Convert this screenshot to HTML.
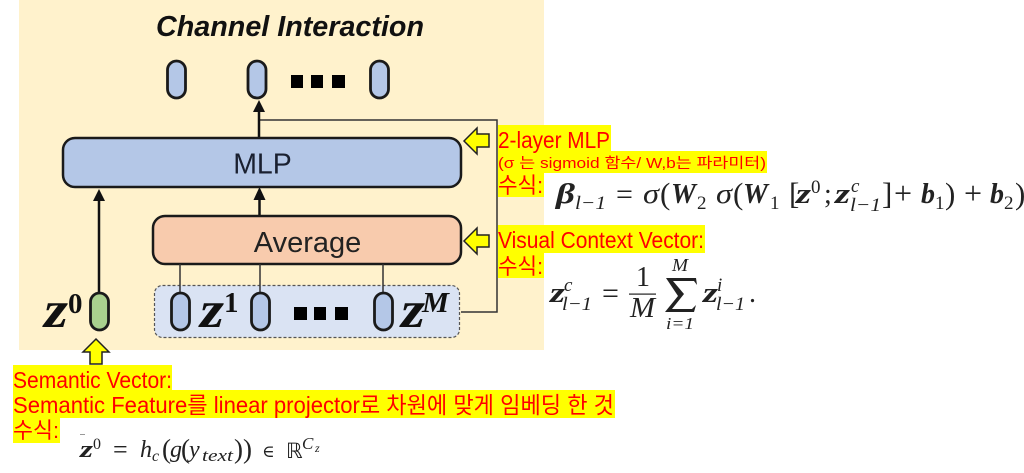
<!DOCTYPE html>
<html><head><meta charset="utf-8"><style>
html,body{margin:0;padding:0;background:#fff;width:1024px;height:473px;overflow:hidden}
svg{display:block;filter:blur(0.35px)}
.k{font-family:"Liberation Sans","Noto Sans CJK KR",sans-serif;fill:#f00}
.m{font-family:"Liberation Serif",serif;fill:#222}
.i{font-style:italic}.b{font-weight:bold}
</style></head><body>
<svg width="1024" height="473" viewBox="0 0 1024 473" xmlns="http://www.w3.org/2000/svg">
<rect x="19" y="0" width="525" height="350" fill="#fff2cc"/>
<text x="156" y="36" font-family="Liberation Sans" font-weight="bold" font-style="italic" font-size="29" fill="#111" textLength="268" lengthAdjust="spacingAndGlyphs">Channel Interaction</text>
<g fill="#b4c7e7" stroke="#1a1a1a" stroke-width="2.800">
<rect x="167.500" y="61" width="18" height="37" rx="9"/><rect x="248" y="61" width="18" height="37" rx="9"/><rect x="370.500" y="61" width="18" height="37" rx="9"/>
</g>
<g fill="#000"><rect x="291" y="75" width="12" height="13"/><rect x="311" y="75" width="12" height="13"/><rect x="332" y="75" width="13" height="13"/></g>
<path d="M259 120H497V312H461" fill="none" stroke="#333" stroke-width="1.500"/>
<g stroke="#111" stroke-width="2.500" fill="none"><path d="M259 138V110M259.500 216V199M99 293V200"/></g>
<g fill="#111"><path d="M259 100L265 112H253Z"/><path d="M259.500 187L265.500 200H253.500Z"/><path d="M99 189L105 201H93Z"/></g>
<rect x="63" y="138" width="398" height="49" rx="12" fill="#b4c7e7" stroke="#1a1a1a" stroke-width="2.500"/>
<text x="262.500" y="173.500" text-anchor="middle" font-family="Liberation Sans" font-size="28.500" fill="#1a2030">MLP</text>
<rect x="153" y="216" width="308" height="48" rx="12" fill="#f8cbad" stroke="#1a1a1a" stroke-width="2.500"/>
<text x="307.500" y="252" text-anchor="middle" font-family="Liberation Sans" font-size="29" fill="#222">Average</text>
<rect x="154.500" y="285.500" width="305" height="52" rx="8" fill="#dae3f3" stroke="#555" stroke-width="1.200" stroke-dasharray="3 2"/>
<path d="M180 264V293M260 264V293M383 264V293" stroke="#333" stroke-width="1.500"/>
<g fill="#000"><rect x="294" y="307" width="13" height="13"/><rect x="314" y="307" width="12" height="13"/><rect x="335" y="307" width="13" height="13"/></g>
<g fill="#b4c7e7" stroke="#1a1a1a" stroke-width="2.800">
<rect x="171.500" y="293" width="18" height="37" rx="9"/><rect x="251.500" y="293" width="18" height="37" rx="9"/><rect x="374.500" y="293" width="18" height="37" rx="9"/>
</g>
<rect x="90.500" y="293" width="18" height="37" rx="9" fill="#a9d18e" stroke="#1a1a1a" stroke-width="2.800"/>
<g font-family="Liberation Serif" font-weight="bold" fill="#111">
<text x="44" y="327" font-size="52" font-style="italic" textLength="24" lengthAdjust="spacingAndGlyphs">z</text><text x="68" y="313" font-size="29">0</text>
<text x="200" y="327" font-size="52" font-style="italic" textLength="24" lengthAdjust="spacingAndGlyphs">z</text><text x="224" y="312" font-size="29">1</text>
<text x="401" y="327" font-size="52" font-style="italic" textLength="24" lengthAdjust="spacingAndGlyphs">z</text><text x="422" y="312" font-size="29" font-style="italic" textLength="27" lengthAdjust="spacingAndGlyphs">M</text>
</g>
<g fill="#ff0" stroke="#222" stroke-width="1.500">
<path d="M464 141L477 128V134H489V147H477V154Z"/>
<path d="M464 241L477 228V235H489V247H477V254Z"/>
<path d="M96 339L109 352H102V364H90V352H83Z"/>
</g>
<g fill="#ff0">
<rect x="498" y="125" width="113" height="26"/><rect x="498" y="151" width="269" height="22"/><rect x="498" y="173" width="46" height="24"/>
<rect x="498" y="225" width="207" height="28"/><rect x="498" y="253" width="46" height="25"/>
<rect x="13" y="365" width="159" height="25"/><rect x="13" y="390" width="602" height="28"/><rect x="13" y="418" width="47" height="25"/>
</g>
<g class="k">
<text x="498" y="148" font-size="23" textLength="112" lengthAdjust="spacingAndGlyphs">2-layer MLP</text>
<text x="498" y="168" font-size="14.500" textLength="268" lengthAdjust="spacingAndGlyphs">(σ 는 sigmoid 함수/ W,b는 파라미터)</text>
<text x="498" y="193" font-size="22" textLength="45" lengthAdjust="spacingAndGlyphs">수식:</text>
<text x="498" y="248" font-size="23" textLength="206" lengthAdjust="spacingAndGlyphs">Visual Context Vector:</text>
<text x="498" y="274" font-size="22" textLength="45" lengthAdjust="spacingAndGlyphs">수식:</text>
<text x="13" y="388" font-size="23" textLength="159" lengthAdjust="spacingAndGlyphs">Semantic Vector:</text>
<text x="13" y="413" font-size="23" textLength="601" lengthAdjust="spacingAndGlyphs">Semantic Feature를 linear projector로 차원에 맞게 임베딩 한 것</text>
<text x="13" y="438" font-size="22" textLength="46" lengthAdjust="spacingAndGlyphs">수식:</text>
</g>
<!-- eq 1 -->
<g class="m" font-size="28">
<text x="556" y="203" class="i b" textLength="19" lengthAdjust="spacingAndGlyphs">β</text><text x="575" y="209" font-size="19" class="i" textLength="31" lengthAdjust="spacingAndGlyphs">l−1</text>
<text x="616" y="204" font-size="30">=</text><text x="643" y="203" class="i" textLength="16" lengthAdjust="spacingAndGlyphs">σ</text><text x="660" y="204" font-size="31">(</text>
<text x="671" y="203" class="i b">W</text><text x="697" y="209" font-size="19">2</text>
<text x="716" y="203" class="i" textLength="16" lengthAdjust="spacingAndGlyphs">σ</text><text x="733" y="204" font-size="31">(</text>
<text x="743" y="203" class="i b">W</text><text x="770" y="209" font-size="19">1</text>
<text x="789" y="204" font-size="31">[</text><text x="796" y="203" class="i b" textLength="15" lengthAdjust="spacingAndGlyphs">z</text><text x="811" y="193" font-size="19">0</text><text x="824" y="203">;</text>
<text x="835" y="203" class="i b" textLength="15" lengthAdjust="spacingAndGlyphs">z</text><text x="851" y="192" font-size="19" class="i">c</text><text x="850" y="211" font-size="19" class="i" textLength="31" lengthAdjust="spacingAndGlyphs">l−1</text>
<text x="882" y="204" font-size="31">]</text><text x="894" y="204" font-size="32">+</text>
<text x="921" y="203" class="i b">b</text><text x="935" y="209" font-size="19">1</text><text x="945" y="204" font-size="31">)</text>
<text x="964" y="204" font-size="32">+</text><text x="990" y="203" class="i b">b</text><text x="1004" y="209" font-size="19">2</text><text x="1015" y="204" font-size="31">)</text>
</g>
<!-- eq 2 -->
<g class="m" font-size="28">
<text x="550" y="302" class="i b" textLength="15" lengthAdjust="spacingAndGlyphs">z</text><text x="564" y="291" font-size="19" class="i">c</text><text x="562" y="310" font-size="19" class="i" textLength="30" lengthAdjust="spacingAndGlyphs">l−1</text>
<text x="602" y="303" font-size="30">=</text>
<text x="636" y="286">1</text><rect x="629" y="293.500" width="27" height="1.200" fill="#222"/><text x="630" y="317" class="i" textLength="25" lengthAdjust="spacingAndGlyphs">M</text>
<path d="M666 278H696L697 285L694 281H673L684 294L672 309H692L696 305L694 312H665L678 296Z" fill="#222"/>
<text x="672" y="271" font-size="18" class="i" textLength="16" lengthAdjust="spacingAndGlyphs">M</text><text x="666" y="329" font-size="17" textLength="28" lengthAdjust="spacingAndGlyphs" class="i">i=1</text>
<text x="703" y="302" class="i b" textLength="15" lengthAdjust="spacingAndGlyphs">z</text><text x="717" y="291" font-size="19" class="i">i</text><text x="716" y="310" font-size="19" class="i" textLength="29" lengthAdjust="spacingAndGlyphs">l−1</text>
<text x="749" y="302">.</text>
</g>
<!-- eq 3 -->
<g class="m" font-size="24">
<rect x="80" y="434" width="5" height="1" fill="#999"/>
<text x="80" y="457" class="i b" textLength="13" lengthAdjust="spacingAndGlyphs">z</text><text x="93" y="449" font-size="16">0</text>
<text x="113" y="458" font-size="26">=</text><text x="140" y="457" class="i">h</text><text x="152" y="461" font-size="16" class="i">c</text>
<text x="162" y="458" font-size="27">(</text><text x="170" y="457" class="i">g</text><text x="181" y="458" font-size="27">(</text><text x="189" y="457" class="i">y</text>
<text x="202" y="461" font-size="17" class="i" textLength="31" lengthAdjust="spacingAndGlyphs">text</text><text x="234" y="458" font-size="27">))</text>
<text x="262" y="457" font-family="DejaVu Serif" font-size="17">∈</text>
<text x="286" y="458" font-family="DejaVu Sans" font-size="21">ℝ</text>
<text x="302" y="449" font-size="17" class="i">C</text><text x="315" y="452" font-size="12" class="i">z</text>
</g>
</svg>
</body></html>
